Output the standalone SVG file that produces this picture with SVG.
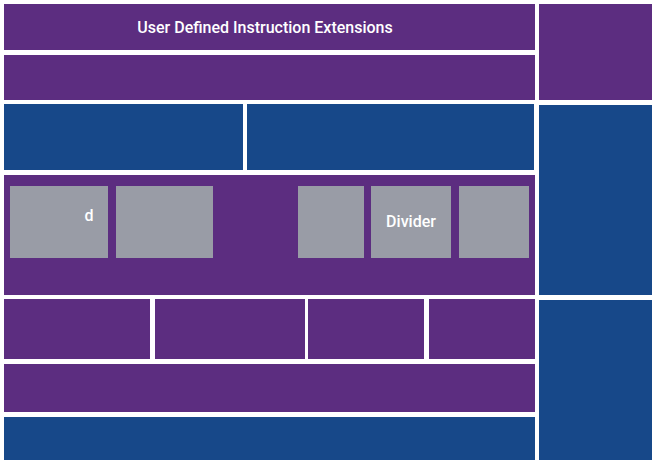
<svg xmlns="http://www.w3.org/2000/svg" width="652" height="461" viewBox="0 0 652 461">
<style>
.p{fill:#5c2d80}
.b{fill:#174889}
.g{fill:#999ca6}
text{font-family:Roboto,"Liberation Sans",sans-serif;fill:#ffffff;text-anchor:middle}
.t{font-size:16px;font-weight:500}
.l{font-size:16px;font-weight:500}
</style>
<rect width="652" height="461" fill="#ffffff"/>
<g id="title"><rect class="p" x="4" y="4" width="531" height="46"/><text class="t" x="265" y="33">User Defined Instruction Extensions</text></g>
<g id="row2"><rect class="p" x="4" y="55" width="531" height="45"/></g>
<g id="rightTop"><rect class="p" x="539" y="4" width="113" height="96"/></g>
<g id="blueLeft"><rect class="b" x="4" y="104" width="239" height="66"/></g>
<g id="blueRight"><rect class="b" x="247" y="104" width="287" height="66"/></g>
<g id="rightMid"><rect class="b" x="539" y="105" width="113" height="190"/></g>
<g id="core"><rect class="p" x="4" y="175" width="531" height="120"/></g>
<g id="unit1"><rect class="g" x="10" y="186" width="98" height="72"/><text class="l" x="89" y="221">d</text></g>
<g id="unit2"><rect class="g" x="116" y="186" width="97" height="72"/></g>
<g id="unit3"><rect class="g" x="298" y="186" width="66" height="72"/></g>
<g id="divider"><rect class="g" x="371" y="186" width="80" height="72"/><text class="l" x="411" y="227">Divider</text></g>
<g id="unit5"><rect class="g" x="459" y="186" width="70" height="72"/></g>
<g id="r4a"><rect class="p" x="4" y="299" width="146" height="60"/></g>
<g id="r4b"><rect class="p" x="155" y="299" width="150" height="60"/></g>
<g id="r4c"><rect class="p" x="308" y="299" width="116" height="60"/></g>
<g id="r4d"><rect class="p" x="429" y="299" width="106" height="60"/></g>
<g id="row5"><rect class="p" x="4" y="364" width="531" height="48"/></g>
<g id="row6"><rect class="b" x="4" y="417" width="531" height="43"/></g>
<g id="rightBottom"><rect class="b" x="539" y="300" width="113" height="160"/></g>
<g id="connectors"/>
</svg>
